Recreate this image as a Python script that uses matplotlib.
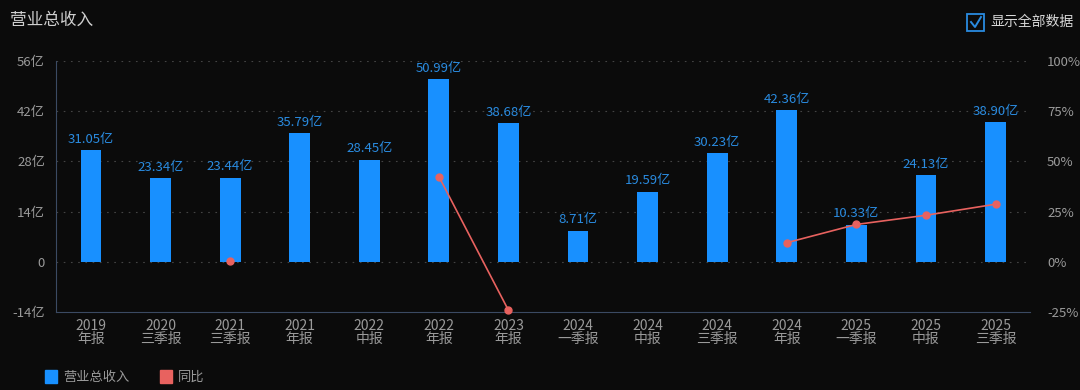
import numpy as np
import matplotlib.pyplot as plt
from matplotlib.patches import Rectangle
from matplotlib.lines import Line2D

plt.rcParams['font.family'] = ['Noto Sans CJK SC', 'DejaVu Sans']

years = ['2019', '2020', '2021', '2021', '2022', '2022', '2023',
         '2024', '2024', '2024', '2024', '2025', '2025', '2025']
periods = ['年报', '三季报', '三季报', '年报', '中报', '年报', '年报',
           '一季报', '中报', '三季报', '年报', '一季报', '中报', '三季报']
revenue = [31.05, 23.34, 23.44, 35.79, 28.45, 50.99, 38.68,
           8.71, 19.59, 30.23, 42.36, 10.33, 24.13, 38.90]
yoy = [np.nan, np.nan, 0.43, np.nan, np.nan, 42.47, -24.14,
       np.nan, np.nan, np.nan, 9.51, 18.60, 23.18, 28.68]
left_ticks = [-14, 0, 14, 28, 42, 56]
left_labels = ['-14亿', '0', '14亿', '28亿', '42亿', '56亿']
right_ticks = [-25, 0, 25, 50, 75, 100]
right_labels = ['-25%', '0%', '25%', '50%', '75%', '100%']

bg = '#0b0b0b'
bar_color = '#1890ff'
line_color = '#e8625f'
tick_color = '#9a9a9a'
axis_color = '#3b4a63'

fig = plt.figure(figsize=(10.8, 3.9), dpi=100, facecolor=bg)
ax = fig.add_axes([0.052, 0.2, 0.902, 0.6436])
ax.set_facecolor(bg)

x = np.arange(len(revenue))
ax.bar(x, revenue, width=0.3, color=bar_color, zorder=2)
for xi, v in zip(x, revenue):
    ax.text(xi, v + 1.2, f'{v:.2f}亿', ha='center', va='bottom',
            color='#2a8be0', fontsize=9.5)

ax.set_xlim(-0.5, len(revenue) - 0.5)
ax.set_ylim(-14, 56)
ax.set_yticks(left_ticks)
ax.set_yticklabels(left_labels)
ax.set_xticks(x)
ax.set_xticklabels([f'{y}\n{p}' for y, p in zip(years, periods)],
                   linespacing=0.95)
ax.tick_params(axis='x', colors=tick_color, labelsize=10, length=0, pad=5)
ax.tick_params(axis='y', colors=tick_color, labelsize=9.5, length=0, pad=8)

for yv in left_ticks[1:]:
    ax.axhline(yv, color='#444444', lw=0.8, ls=(0, (1.5, 5)), zorder=1)

for s in ['top', 'right']:
    ax.spines[s].set_visible(False)
ax.spines['left'].set_color(axis_color)
ax.spines['bottom'].set_color(axis_color)

ax2 = ax.twinx()
ax2.set_ylim(-25, 100)
ax2.set_yticks(right_ticks)
ax2.set_yticklabels(right_labels)
ax2.tick_params(axis='y', colors=tick_color, labelsize=9.5, length=0, pad=12)
for s in ['top', 'right', 'left', 'bottom']:
    ax2.spines[s].set_visible(False)
ax2.plot(x, yoy, color=line_color, lw=1.2, marker='o', markersize=5,
         zorder=3, clip_on=False)

fig.text(10 / 1080, 1 - 20 / 390, '营业总收入', color='#cfcfcf', fontsize=12,
         va='center', ha='left')

# checkbox
fig.patches.append(Rectangle((967 / 1080, 1 - 31 / 390), 17 / 1080, 17 / 390,
                             transform=fig.transFigure, fill=False,
                             edgecolor='#2a8be0', lw=1.3))
fig.lines.append(Line2D([971 / 1080, 975 / 1080, 981 / 1080],
                        [1 - 22 / 390, 1 - 27 / 390, 1 - 17 / 390],
                        transform=fig.transFigure, color='#2a8be0', lw=1.4))
fig.text(990 / 1080, 1 - 22 / 390, '显示全部数据', color='#d8d8d8', fontsize=10,
         va='center', ha='left')

# legend
fig.patches.append(Rectangle((45 / 1080, 1 - 383 / 390), 12 / 1080, 13 / 390,
                             transform=fig.transFigure, color=bar_color))
fig.text(63 / 1080, 1 - 377 / 390, '营业总收入', color='#9a9a9a', fontsize=9.5,
         va='center', ha='left')
fig.patches.append(Rectangle((160 / 1080, 1 - 383 / 390), 12 / 1080, 13 / 390,
                             transform=fig.transFigure, color=line_color))
fig.text(178 / 1080, 1 - 377 / 390, '同比', color='#9a9a9a', fontsize=9.5,
         va='center', ha='left')

fig.savefig('out.png', dpi=100, facecolor=bg)
